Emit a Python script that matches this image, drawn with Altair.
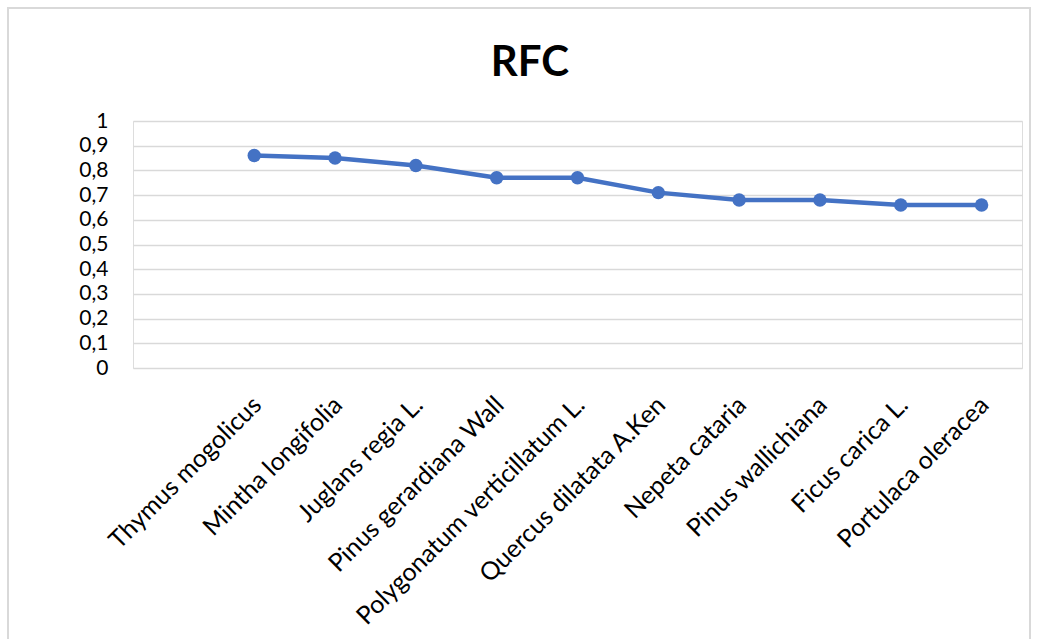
import altair as alt
import pandas as pd

species = [
    "Thymus mogolicus", "Mintha longifolia", "Juglans regia L.",
    "Pinus gerardiana Wall", "Polygonatum verticillatum L.",
    "Quercus dilatata A.Ken", "Nepeta cataria", "Pinus wallichiana",
    "Ficus carica L.", "Portulaca oleracea",
]
rfc = [0.86, 0.85, 0.82, 0.77, 0.77, 0.71, 0.68, 0.68, 0.66, 0.66]
title_text = "RFC"

df = pd.DataFrame({"species": species, "rfc": rfc})

FONT = "Lato"
BLUE = "#4472C4"
W, H = 889, 247

x = alt.X(
    "species:N",
    sort=None,
    scale=alt.Scale(type="point", padding=0.5, domain=[""] + species),
    axis=alt.Axis(
        title=None, labelAngle=-45, labelAlign="right", labelBaseline="top",
        labelFont=FONT, labelFontSize=25, labelColor="#000000",
        labelPadding=24, labelOffset=-6, ticks=False, domain=False, grid=False,
        labelOverlap=False, labelLimit=500,
    ),
)
y = alt.Y(
    "rfc:Q",
    scale=alt.Scale(domain=[0, 1], nice=False),
    axis=alt.Axis(
        title=None, values=[i / 10 for i in range(11)],
        labelExpr="replace(format(datum.value, '.1~f'), '.', ',')",
        labelFont=FONT, labelFontSize=21, labelColor="#000000",
        labelPadding=25, ticks=False, domain=False,
        grid=True, gridColor="#d9d9d9", gridWidth=1.5,
    ),
)

line = alt.Chart(df).mark_line(color=BLUE, strokeWidth=4.5).encode(x=x, y=y)
pts = alt.Chart(df).mark_point(filled=True, color=BLUE, opacity=1, size=180).encode(x=x, y=y)

border = alt.Chart(df).mark_rect(fill=None, stroke="#d9d9d9", strokeWidth=2, clip=False).encode(
    x=alt.value(-125), x2=alt.value(W + 8), y=alt.value(-113), y2=alt.value(H + 300)
)

title = alt.Chart(alt.Data(values=[{"t": title_text}])).mark_text(
    font=FONT, fontSize=42, fontWeight="bold", color="#000000",
    align="center", baseline="alphabetic",
).encode(text="t:N", x=alt.value(397), y=alt.value(-45))

chart = (
    alt.layer(border, line, pts, title)
    .properties(
        width=W, height=H,
        padding={"left": 133, "top": 121, "right": 16, "bottom": 271},
        autosize=alt.AutoSizeParams(type="none"),
    )
    .configure_view(stroke=None)
    .configure(background="white")
)

chart.save("out.html", embed_options={"renderer": "svg", "actions": False})
